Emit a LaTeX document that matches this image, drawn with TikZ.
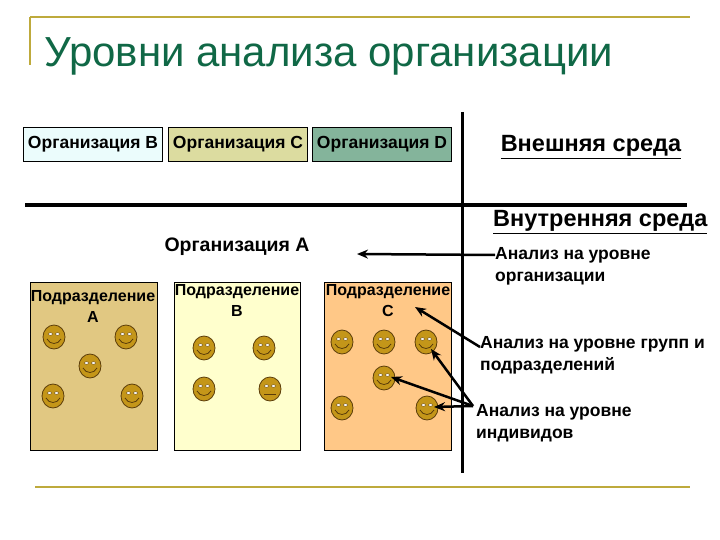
\documentclass[tikz,border=0pt]{standalone}
\usepackage{fontspec}
\setmainfont{Liberation Sans}
\usetikzlibrary{arrows.meta}
\definecolor{gold}{RGB}{190,170,60}
\definecolor{ttl}{RGB}{16,104,70}
\definecolor{cB}{RGB}{235,252,252}
\definecolor{cC}{RGB}{220,220,160}
\definecolor{cD}{RGB}{132,180,155}
\definecolor{pA}{RGB}{225,200,130}
\definecolor{pB}{RGB}{255,255,205}
\definecolor{pC}{RGB}{255,200,135}
\definecolor{face}{RGB}{196,150,25}
\definecolor{faceb}{RGB}{90,60,10}
\tikzset{
 orgbox/.style={draw=black,thin,minimum width=139pt,minimum height=34pt,inner sep=0pt,font=\bfseries\fontsize{17.5}{20}\selectfont},
 panel/.style={draw=black,thin},
 lbl/.style={font=\bfseries\fontsize{17.5}{22}\selectfont,align=left,anchor=north west,inner sep=0pt},
 plbl/.style={font=\bfseries\fontsize{16}{21}\selectfont,align=center,anchor=north,inner sep=0pt},
 arr/.style={-{Stealth[length=11pt,width=9pt]},line width=2.5pt},
 smile/.pic={\fill[face,draw=faceb,line width=0.8pt] (0,0) ellipse (11pt and 12pt);
   \fill[white,draw=faceb,line width=0.4pt] (-3.5,-3) ellipse (2pt and 1.3pt) (3.5,-3) ellipse (2pt and 1.3pt);
   \draw[faceb,line width=0.8pt] (-7,2) .. controls (-4,8) and (4,8) .. (7,2);},
 neutral/.pic={\fill[face,draw=faceb,line width=0.8pt] (0,0) ellipse (11pt and 12pt);
   \fill[white,draw=faceb,line width=0.4pt] (-3.5,-3) ellipse (2pt and 1.3pt) (3.5,-3) ellipse (2pt and 1.3pt);
   \draw[faceb,line width=0.8pt] (-6,5) -- (6,5);}
}
\begin{document}
\begin{tikzpicture}[x=1pt,y=-1pt]
\useasboundingbox (0,0) rectangle (720,540);
% gold frame lines
\draw[gold,line width=2pt] (30,17) -- (690,17);
\draw[gold,line width=2pt] (30,17) -- (30,65);
\draw[gold,line width=2pt] (35,487) -- (690,487);
\node[anchor=base west,inner sep=0pt,text=ttl,font=\fontsize{42}{44}\selectfont] (title) at (44,67) {Уровни анализа организации};
% org boxes
\node[orgbox,fill=cB] (oB) at (93,144) {Организация B};
\node[orgbox,fill=cC] (oC) at (238,144) {Организация C};
\node[orgbox,fill=cD] (oD) at (382,144) {Организация D};
\node[inner sep=0pt,font=\bfseries\fontsize{23.5}{26}\selectfont] (ext) at (591,147) {\underline{Внешняя среда}};
\node[inner sep=0pt,font=\bfseries\fontsize{23.5}{26}\selectfont,anchor=west] (int) at (493,222) {\underline{Внутренняя среда}};
% lines
\coordinate (hl1) at (25,205); \coordinate (hl2) at (687,205);
\coordinate (vl1) at (462,112); \coordinate (vl2) at (462,473);
\draw[line width=4pt] (hl1) -- (hl2);
\draw[line width=3pt] (vl1) -- (vl2);
% panels
\draw[panel,fill=pA] (30,282) rectangle (157,450);
\draw[panel,fill=pB] (174,282) rectangle (300,450);
\draw[panel,fill=pC] (324,282) rectangle (451,450);
\node[font=\bfseries\fontsize{19.5}{22}\selectfont,inner sep=0pt] (orgA) at (237,247) {Организация A};
\node[plbl] (pla) at (93,290) {Подразделение\\A};
\node[plbl] (plb) at (237,284) {Подразделение\\B};
\node[plbl] (plc) at (388,284) {Подразделение\\C};
% faces
\pic at (54,337) {smile}; \pic at (126,337) {smile}; \pic at (90,366) {smile};
\pic at (53,396) {smile}; \pic at (132,396) {smile};
\pic at (204,348) {smile}; \pic at (264,348) {smile};
\pic at (204,389) {smile}; \pic at (270,389) {neutral};
\pic at (342,342) {smile}; \pic at (384,342) {smile}; \pic at (426,342) {smile};
\pic at (384,378) {smile}; \pic at (342,408) {smile}; \pic at (427,408) {smile};
\coordinate (f3) at (431,349); \coordinate (f4) at (391,377); \coordinate (f6) at (434,407);
\coordinate (tc) at (415,307);
\coordinate (oa) at (357,254);
% right labels
\node[lbl] (t1) at (495,247) {Анализ на уровне\\организации};
\node[lbl] (t2) at (480,336) {Анализ на уровне групп и\\подразделений};
\node[lbl] (t3) at (476,404) {Анализ на уровне\\индивидов};
\coordinate (a1) at (495,255); \coordinate (a2) at (480,347); \coordinate (a3) at (473,406);
\draw[arr] (a1) -- (oa);
\draw[arr] (a2) -- (tc);
\draw[arr] (a3) -- (f3);
\draw[arr] (a3) -- (f4);
\draw[arr] (a3) -- (f6);
\end{tikzpicture}
\end{document}
